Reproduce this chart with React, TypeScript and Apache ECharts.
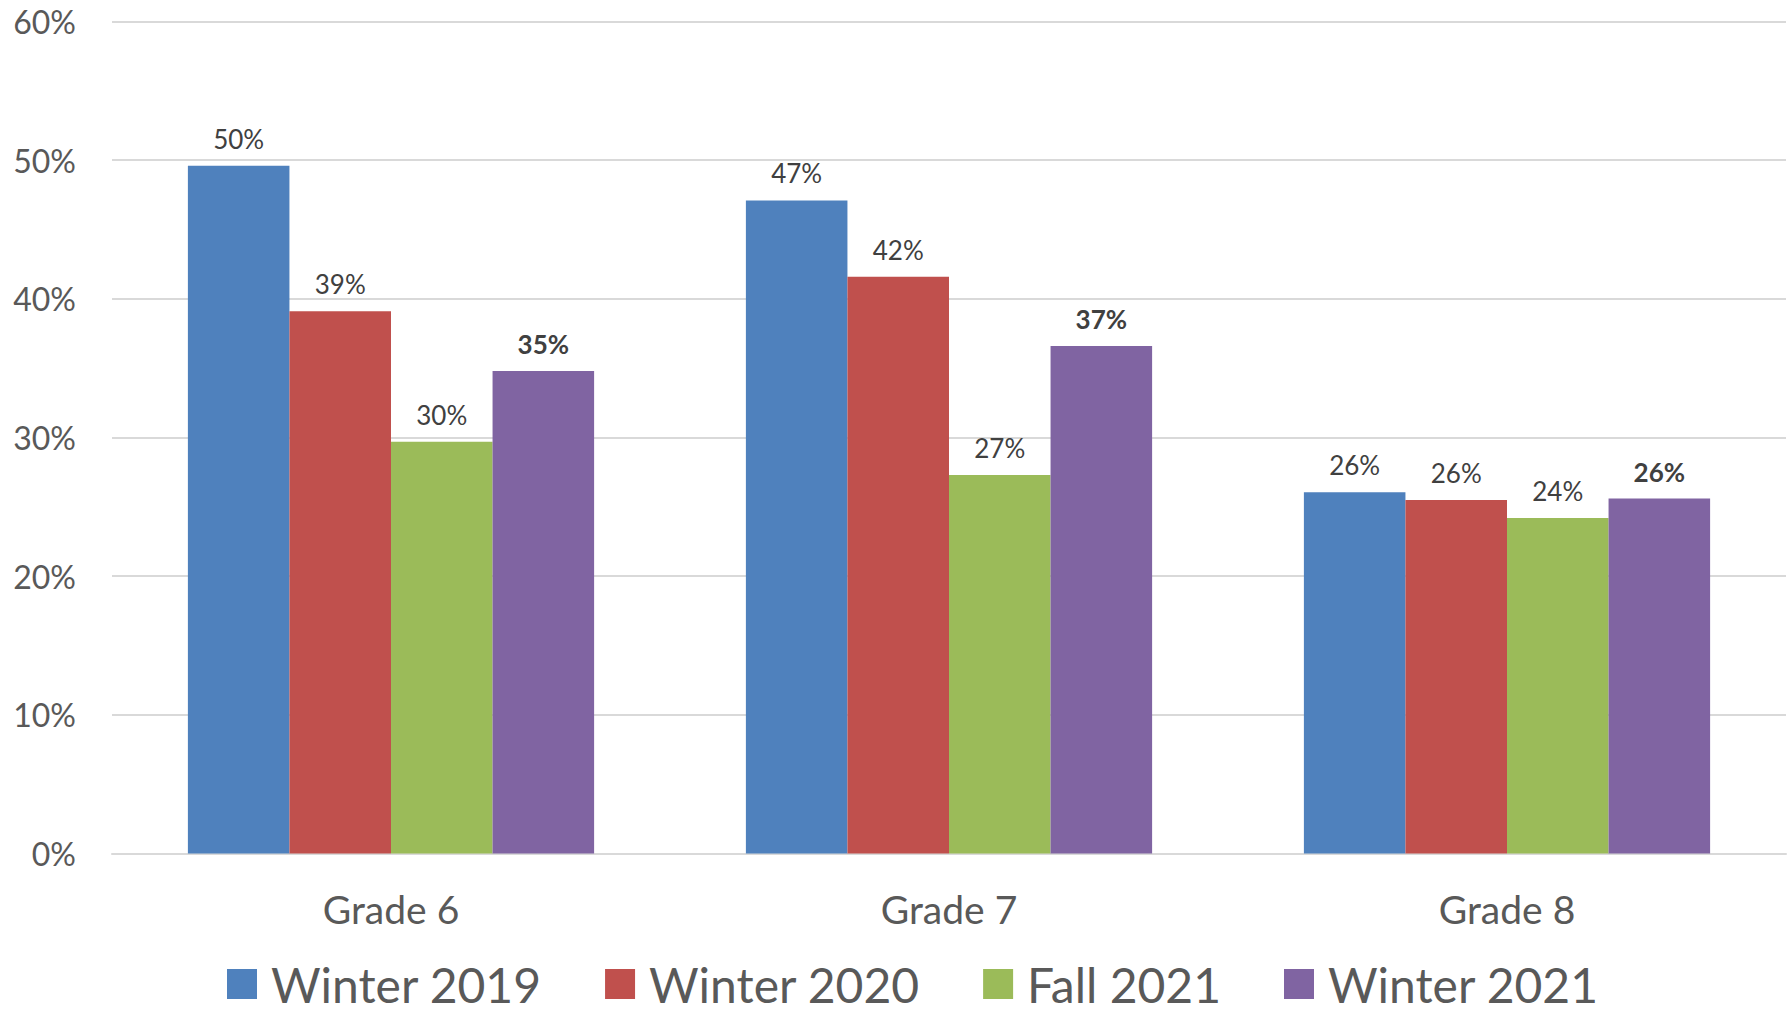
import React, { useEffect, useRef } from "react";
import * as echarts from "echarts";

const categories = ["Grade 6", "Grade 7", "Grade 8"];
const seriesNames = ["Winter 2019", "Winter 2020", "Fall 2021", "Winter 2021"];
const winter2019 = [49.6, 47.1, 26.05];
const winter2020 = [39.1, 41.6, 25.5];
const fall2021 = [29.7, 27.3, 24.2];
const winter2021 = [34.8, 36.6, 25.6];
const yTicks = [0, 10, 20, 30, 40, 50, 60];

const colors = ["#4F81BD", "#C0504D", "#9BBB59", "#8064A2"];
const FONT = "Lato, 'Noto Sans', sans-serif";

export default function App() {
  const ref = useRef<HTMLDivElement>(null);
  useEffect(() => {
    if (!ref.current) return;
    const chart = echarts.init(ref.current, undefined, { renderer: "svg" });
    const values = [winter2019, winter2020, fall2021, winter2021];
    chart.setOption({
      animation: false,
      textStyle: { fontFamily: FONT },
      grid: { left: 112, right: 2, top: 21.5, bottom: 158.5, containLabel: false },
      legend: {
        data: seriesNames,
        left: 227,
        top: 960,
        padding: 0,
        itemWidth: 30,
        itemHeight: 30,
        itemGap: 63,
        icon: "rect",
        textStyle: {
          fontSize: 48,
          color: "#595959",
          fontFamily: FONT,
          padding: [0, 0, 0, 9],
        },
      },
      xAxis: {
        type: "category",
        data: categories,
        axisLine: { show: true, lineStyle: { color: "#D9D9D9", width: 2 } },
        axisTick: { show: false },
        axisLabel: { fontSize: 39, color: "#595959", margin: 36, fontFamily: FONT },
      },
      yAxis: {
        type: "value",
        min: yTicks[0],
        max: yTicks[yTicks.length - 1],
        interval: 10,
        axisLine: { show: false },
        axisTick: { show: false },
        splitLine: { lineStyle: { color: "#D9D9D9", width: 2 } },
        axisLabel: { fontSize: 32, color: "#595959", margin: 36, formatter: "{value}%", fontFamily: FONT },
      },
      series: seriesNames.map((name, i) => ({
        name,
        type: "bar",
        data: values[i],
        barGap: "0%",
        barCategoryGap: "27.2%",
        itemStyle: { color: colors[i] },
        label: {
          show: true,
          position: "top",
          distance: 14,
          fontSize: 26,
          color: "#404040",
          fontFamily: FONT,
          fontWeight: i === 3 ? "bold" : "normal",
          formatter: (p: any) => Math.round(p.value) + "%",
        },
      })),
    });
    return () => chart.dispose();
  }, []);
  return (
    <div
      ref={ref}
      style={{ position: "fixed", left: 0, top: 0, width: 1788, height: 1012, background: "#fff" }}
    />
  );
}
